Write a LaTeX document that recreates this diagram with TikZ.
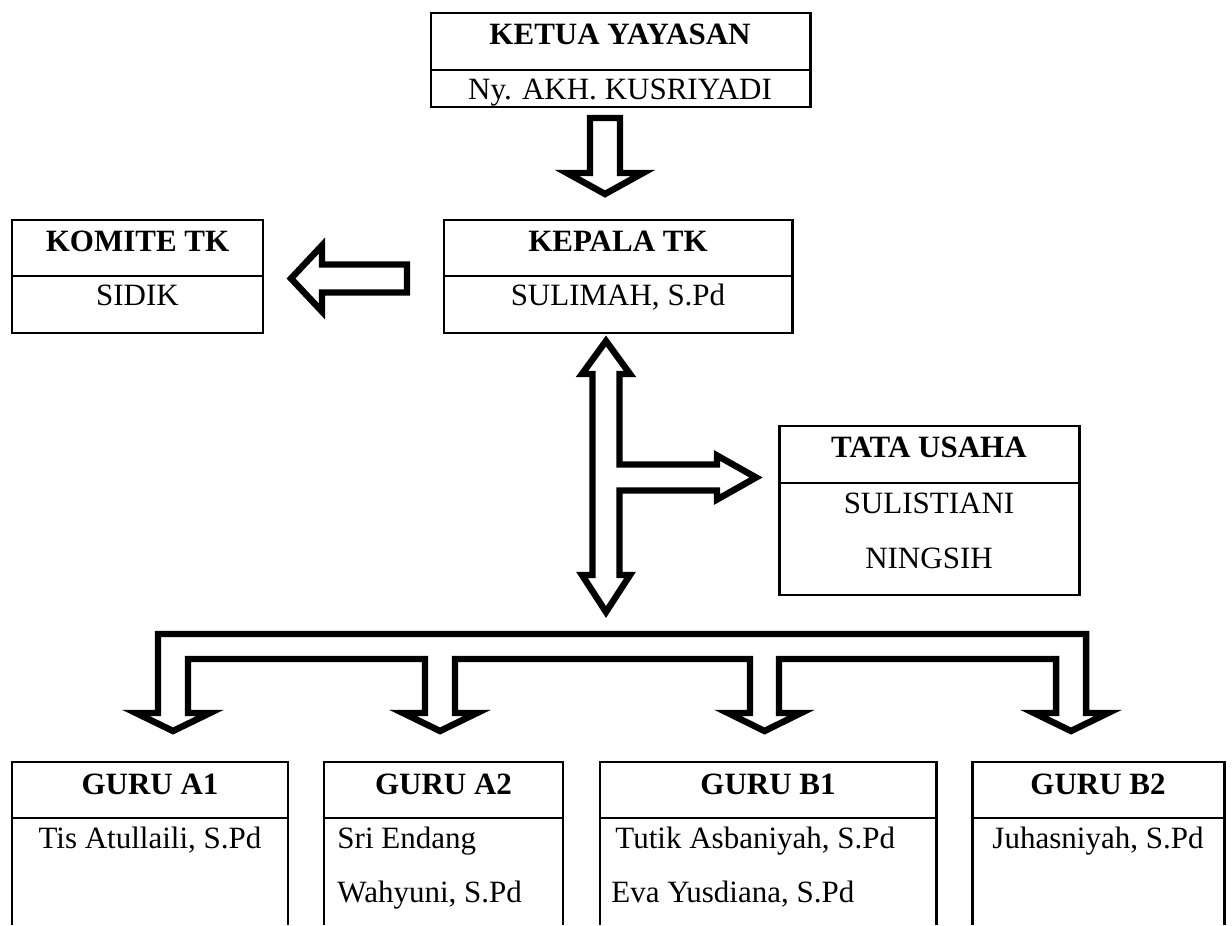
\documentclass[tikz,border=0pt]{standalone}
\usepackage{fontspec}
\setmainfont{Liberation Serif}

\begin{document}
\begin{tikzpicture}[x=0.387pt,y=0.387pt,yscale=-1,xscale=1,
  every node/.style={inner sep=0.75pt,font=\fontsize{12}{14}\selectfont},
  boxline/.style={line width=1.15pt},
  blockarrow/.style={line width=2.5pt,line join=miter,miter limit=10},
  headtext/.style={anchor=base,font=\fontsize{12}{14}\selectfont\bfseries},
  nametext/.style={anchor=base},
  leftname/.style={anchor=base west}]
\useasboundingbox (0,0) rectangle (1232,925);

%Shape: Rectangle (ketua)
\draw [boxline] (431,13) rectangle (810,107) ;
\draw [boxline] (431,70) -- (810,70) ;
%Shape: Rectangle (komite)
\draw [boxline] (12,220) rectangle (263,333) ;
\draw [boxline] (12,276) -- (263,276) ;
%Shape: Rectangle (kepala)
\draw [boxline] (444,220) rectangle (792,333) ;
\draw [boxline] (444,276) -- (792,276) ;
%Shape: Rectangle (tata usaha)
\draw [boxline] (779,426) rectangle (1079,595) ;
\draw [boxline] (779,483) -- (1079,483) ;
%Shape: Open boxes (guru)
\draw [boxline] (12,925) -- (12,762) -- (288,762) -- (288,925) ;
\draw [boxline] (12,818) -- (288,818) ;
\draw [boxline] (324,925) -- (324,762) -- (563,762) -- (563,925) ;
\draw [boxline] (324,818) -- (563,818) ;
\draw [boxline] (600,925) -- (600,762) -- (936,762) -- (936,925) ;
\draw [boxline] (600,818) -- (936,818) ;
\draw [boxline] (972,925) -- (972,762) -- (1224,762) -- (1224,925) ;
\draw [boxline] (972,818) -- (1224,818) ;

%Block Arrow: ketua to kepala
\draw [blockarrow] (590,118) -- (620,118) -- (620,173) -- (643,173) -- (605,194) -- (567,173) -- (590,173) -- cycle ;
%Block Arrow: kepala to komite
\draw [blockarrow] (407,264.5) -- (407,292.5) -- (322,292.5) -- (322,311.5) -- (291,278.5) -- (322,245.5) -- (322,264.5) -- cycle ;
%Block Arrow: kepala, tata usaha, guru
\draw [blockarrow] (606,341) -- (630,374) -- (619.5,374) -- (619.5,464.5) -- (717,464.5) -- (717,455.5) -- (756,477.5) -- (717,499.5) -- (717,490.5) -- (619.5,490.5) -- (619.5,575) -- (630,575) -- (606,612) -- (582,575) -- (592.5,575) -- (592.5,374) -- (582,374) -- cycle ;
%Block Arrow: bus to guru
\draw [blockarrow] (158,713) -- (158,634) -- (1086,634) -- (1086,713) -- (1108,713) -- (1071,731) -- (1034,713) -- (1056,713) -- (1056,659) -- (779,659) -- (779,713) -- (801,713) -- (764.5,731) -- (728,713) -- (750,713) -- (750,659) -- (455,659) -- (455,713) -- (477,713) -- (440,731) -- (403,713) -- (425,713) -- (425,659) -- (188,659) -- (188,713) -- (210,713) -- (173,731) -- (136,713) -- cycle ;

% Text Node
\draw (620,45) node [headtext] (ketua) {KETUA YAYASAN};
% Text Node
\draw (620,100) node [nametext] (ketuaname) {Ny. AKH. KUSRIYADI};
% Text Node
\draw (137.5,252) node [headtext] (komite) {KOMITE TK};
% Text Node
\draw (137.5,305) node [nametext] (komitename) {SIDIK};
% Text Node
\draw (618,252) node [headtext] (kepala) {KEPALA TK};
% Text Node
\draw (618,305) node [nametext] (kepalaname) {SULIMAH, S.Pd};
% Text Node
\draw (929,457) node [headtext] (tu) {TATA USAHA};
% Text Node
\draw (929,513) node [nametext] (tuname) {SULISTIANI};
% Text Node
\draw (929,568) node [nametext] (tuname2) {NINGSIH};
% Text Node
\draw (150,794) node [headtext] (gurua1) {GURU A1};
% Text Node
\draw (150,848) node [nametext] (gurua1name) {Tis Atullaili, S.Pd};
% Text Node
\draw (443.5,794) node [headtext] (gurua2) {GURU A2};
% Text Node
\draw (335,848) node [leftname] (gurua2name) {Sri Endang};
% Text Node
\draw (335,902) node [leftname] (gurua2name2) {Wahyuni, S.Pd};
% Text Node
\draw (768,794) node [headtext] (gurub1) {GURU B1};
% Text Node
\draw (613,848) node [leftname] (gurub1name) {Tutik Asbaniyah, S.Pd};
% Text Node
\draw (609,902) node [leftname] (gurub1name2) {Eva Yusdiana, S.Pd};
% Text Node
\draw (1098,794) node [headtext] (gurub2) {GURU B2};
% Text Node
\draw (1098,848) node [nametext] (gurub2name) {Juhasniyah, S.Pd};

\end{tikzpicture}
\end{document}
